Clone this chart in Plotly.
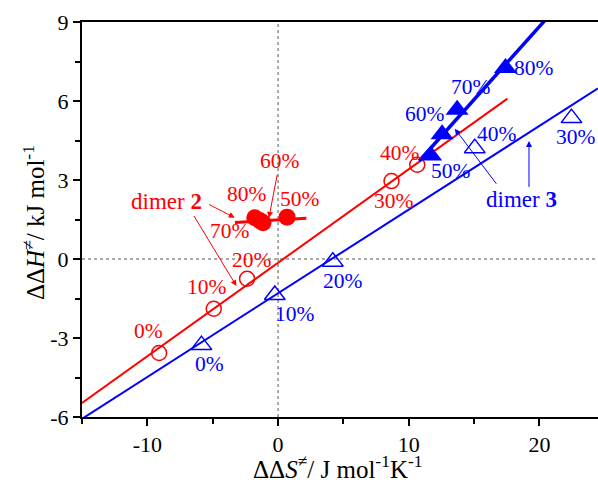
import plotly.graph_objects as go

# ---------------- data ----------------
# dimer 2, open circles (0-40 %)
red_open_x = [-9.10, -4.92, -2.37, 8.68, 10.65]
red_open_y = [-3.57, -1.89, -0.75, 2.96, 3.58]
red_open_lab = ["0%", "10%", "20%", "30%", "40%"]
# dimer 2, filled circles (50-80 %)
red_fill_x = [0.69, -1.40, -1.15, -1.78]
red_fill_y = [1.59, 1.46, 1.38, 1.57]
red_fill_lab = ["50%", "60%", "70%", "80%"]
# dimer 3, open triangles (0-40 %)
blue_open_x = [-5.86, -0.25, 4.19, 22.45, 15.05]
blue_open_y = [-3.27, -1.37, -0.10, 5.35, 4.21]
blue_open_lab = ["0%", "10%", "20%", "30%", "40%"]
# dimer 3, filled triangles (50-80 %)
blue_fill_x = [11.68, 12.55, 13.70, 17.40]
blue_fill_y = [3.93, 4.74, 5.67, 7.25]
blue_fill_lab = ["50%", "60%", "70%", "80%"]

# fitted lines (end points)
fit_red_open_x = [-15.0, 17.55]
fit_red_open_y = [-5.47, 6.09]
fit_red_fill_x = [-3.30, 2.17]
fit_red_fill_y = [1.39, 1.55]
fit_blue_open_x = [-15.0, 24.48]
fit_blue_open_y = [-6.07, 6.48]
fit_blue_fill_x = [10.8, 20.4]
fit_blue_fill_y = [3.72, 9.05]

x_ticks = [-10, 0, 10, 20]
y_ticks = [-6, -3, 0, 3, 6, 9]

RED = "#ff0000"
BLUE = "#0000ff"
FONT = "Liberation Serif, Times New Roman, serif"
LAB = 21.5

fig = go.Figure()

# lines
fig.add_trace(go.Scatter(x=fit_red_open_x, y=fit_red_open_y, mode="lines",
                         line=dict(color=RED, width=2), hoverinfo="skip"))
fig.add_trace(go.Scatter(x=fit_blue_open_x, y=fit_blue_open_y, mode="lines",
                         line=dict(color=BLUE, width=2), hoverinfo="skip"))
fig.add_trace(go.Scatter(x=fit_red_fill_x, y=fit_red_fill_y, mode="lines",
                         line=dict(color=RED, width=3), hoverinfo="skip"))
fig.add_trace(go.Scatter(x=fit_blue_fill_x, y=fit_blue_fill_y, mode="lines",
                         line=dict(color=BLUE, width=3.5), hoverinfo="skip"))

# markers
fig.add_trace(go.Scatter(x=red_open_x, y=red_open_y, mode="markers",
                         marker=dict(symbol="circle-open", size=15, color=RED,
                                     line=dict(width=1.5, color=RED))))
fig.add_trace(go.Scatter(x=red_fill_x, y=red_fill_y, mode="markers",
                         marker=dict(symbol="circle", size=17, color=RED)))
fig.add_trace(go.Scatter(x=blue_open_x, y=blue_open_y, mode="markers",
                         marker=dict(symbol="triangle-up-open", size=18, color=BLUE,
                                     line=dict(width=1.5, color=BLUE))))
fig.add_trace(go.Scatter(x=blue_fill_x, y=blue_fill_y, mode="markers",
                         marker=dict(symbol="triangle-up", size=20, color=BLUE)))

annotations = []


def add_labels(xs, ys, labs, offsets, color):
    for x, y, t, off in zip(xs, ys, labs, offsets):
        if off is None:
            continue
        annotations.append(dict(x=x, y=y, xref="x", yref="y", text=t, showarrow=False,
                                xanchor="center", yanchor="middle",
                                xshift=off[0], yshift=off[1],
                                font=dict(family=FONT, size=LAB, color=color)))


add_labels(red_open_x, red_open_y, red_open_lab,
           [(-11, 22), (-7, 22), (5, 19), (2, -20), (-17, 12)], RED)
add_labels(red_fill_x, red_fill_y, red_fill_lab,
           [(13, 18), None, (-33, -8), (-8, 24)], RED)
add_labels(blue_open_x, blue_open_y, blue_open_lab,
           [(8, -19), (20, -19), (10, -19), (5, -19), (22, 14)], BLUE)
add_labels(blue_fill_x, blue_fill_y, blue_fill_lab,
           [(20, -15), (-17, 20), (14, 23), (29, 0)], BLUE)

# 60% of dimer 2 with arrow
annotations.append(dict(x=red_fill_x[1] + 0.7, y=red_fill_y[1] + 0.1, xref="x", yref="y",
                        ax=0.13, ay=3.71, axref="x", ayref="y",
                        text=red_fill_lab[1], showarrow=True, arrowhead=2, arrowsize=1.2,
                        arrowwidth=1, arrowcolor=RED,
                        font=dict(family=FONT, size=LAB, color=RED)))

# dimer labels
annotations.append(dict(x=-8.54, y=2.20, xref="x", yref="y", text="dimer <b>2</b>",
                        showarrow=False, xanchor="center", yanchor="middle",
                        font=dict(family=FONT, size=23, color=RED)))
annotations.append(dict(x=18.62, y=2.26, xref="x", yref="y", text="dimer <b>3</b>",
                        showarrow=False, xanchor="center", yanchor="middle",
                        font=dict(family=FONT, size=23, color=BLUE)))

# pointer arrows
for (tx, ty, hx, hy, c) in [(-5.40, 2.10, -3.31, 1.57, RED),
                            (-6.50, 1.69, -3.18, -1.03, RED),
                            (16.79, 2.80, 13.52, 4.95, BLUE),
                            (19.2, 2.68, 19.2, 4.48, BLUE)]:
    annotations.append(dict(x=hx, y=hy, xref="x", yref="y", ax=tx, ay=ty,
                            axref="x", ayref="y", text="", showarrow=True,
                            arrowhead=2, arrowsize=1.2, arrowwidth=1, arrowcolor=c))

# axis titles
annotations.append(dict(x=-0.093, y=0.491, xref="paper", yref="paper",
                        xanchor="center", yanchor="middle",
                        text="ΔΔ<i>H</i><sup>≠</sup>/ kJ mol<sup>-1</sup>",
                        textangle=-90, showarrow=False,
                        font=dict(family=FONT, size=25, color="black")))
annotations.append(dict(x=0.496, y=-0.127, xref="paper", yref="paper",
                        xanchor="center", yanchor="middle",
                        text="ΔΔ<i>S</i><sup>≠</sup>/ J mol<sup>-1</sup>K<sup>-1</sup>",
                        showarrow=False,
                        font=dict(family=FONT, size=25, color="black")))

shapes = [
    dict(type="line", xref="x", yref="y", x0=0, x1=0, y0=-6, y1=9,
         line=dict(color="#555555", width=1, dash="dot"), layer="below"),
    dict(type="line", xref="x", yref="y", x0=-15, x1=24.48, y0=0, y1=0,
         line=dict(color="#555555", width=1, dash="dot"), layer="below"),
]

fig.update_layout(
    width=598, height=490,
    margin=dict(l=82, r=0, t=22, b=73),
    plot_bgcolor="white", paper_bgcolor="white",
    showlegend=False,
    annotations=annotations,
    shapes=shapes,
    font=dict(family=FONT, size=22, color="black"),
)
fig.update_xaxes(range=[-15, 24.48], tickvals=x_ticks, ticktext=[str(v) for v in x_ticks],
                 showgrid=False, zeroline=False, showline=True, linecolor="black",
                 linewidth=2, mirror=True, ticks="outside", ticklen=7, tickwidth=2,
                 tickcolor="black", tickfont=dict(family=FONT, size=22),
                 minor=dict(dtick=5, tick0=-15, ticks="outside", ticklen=5,
                            tickwidth=2, tickcolor="black"))
fig.update_yaxes(range=[-6, 9], tickvals=y_ticks, ticktext=[str(v) for v in y_ticks],
                 showgrid=False, zeroline=False, showline=True, linecolor="black",
                 linewidth=2, mirror=False, ticks="outside", ticklen=7, tickwidth=2,
                 tickcolor="black", tickfont=dict(family=FONT, size=22),
                 minor=dict(dtick=1.5, tick0=-6, ticks="outside", ticklen=5,
                            tickwidth=2, tickcolor="black"))

fig.write_html("out.html", config={"displayModeBar": False},
               post_script="document.body.style.margin='0';document.body.style.overflow='hidden';")
